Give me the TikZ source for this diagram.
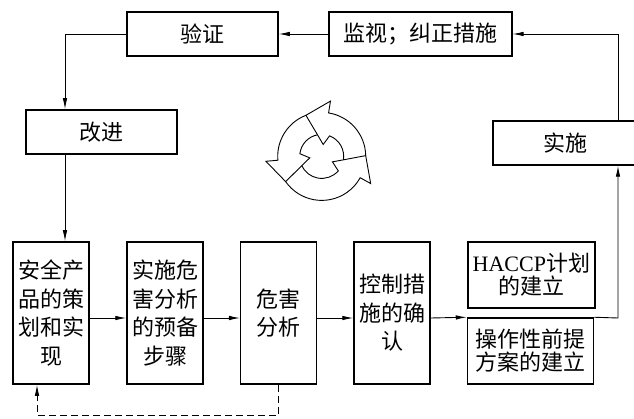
\documentclass[tikz,border=0pt]{standalone}
\usepackage{fontspec}
\newfontfamily\cjk{Noto Sans CJK SC}
\newfontfamily\latin{Liberation Serif}
\usetikzlibrary{arrows.meta,calc}

\tikzstyle{box}=[shape=rectangle,draw,line width=1.5pt,inner sep=0pt,align=center,font=\cjk\fontsize{22}{28.5}\selectfont]
\tikzstyle{tall}=[box,minimum width=76pt,minimum height=142pt]
\tikzstyle{wide}=[box,minimum width=151pt,minimum height=44pt]
\tikzstyle{half}=[box,minimum width=127pt,minimum height=66pt,font=\cjk\fontsize{22}{23}\selectfont]
\tikzstyle{flow}=[line width=0.9pt,-{Latex[length=11pt,width=4.5pt]}]

\begin{document}
\begin{tikzpicture}[x=1pt,y=1pt]
    \useasboundingbox (0,0) rectangle (634,418);
    % upper loop
    \node[wide] (verify) at (202.5,384) {验证};
    \node[wide,minimum width=183pt] (monitor) at (420.3,384) {监视；纠正措施}
        edge [flow] (verify);
    \node[wide] (improve) at (101.5,286) {改进};
    \node[wide,minimum width=144pt] (implement) at (565,275) {实施};
    % steps
    \node[tall] (plan) at (51,105) {安全产\\品的策\\划和实\\现};
    \node[tall] (prep) at (165,105) {实施危\\害分析\\的预备\\步骤};
    \node[tall] (hazard) at (278.7,105) {危害\\分析};
    \node[tall] (control) at (392,105) {控制措\\施的确\\认};
    \node[half] (haccp) at (531.4,143) {{\latin HACCP}计划\\的建立};
    \node[half,minimum width=126pt] (prereq) at (530.5,67) {操作性前提\\方案的建立};
    % connectors
    \coordinate (lt) at (65,0);
    \coordinate (rt) at (618,100);
    \coordinate (db) at (37,3);
    \draw[flow] (verify.west) -| (lt |- improve.north);
    \draw[flow] (lt |- improve.south) -- (lt |- plan.north);
    \foreach \a/\b in {plan/prep,prep/hazard,hazard/control}
        \draw[flow] (\a.east |- rt) -- (\b.west |- rt);
    \draw[flow] (control.east |- rt) -- (prereq.north west);
    \draw[flow] (prereq.north east) -- (rt) -- (rt |- implement.south);
    \draw[flow] (rt |- implement.north) |- (monitor.east);
    \draw[flow,dash pattern=on 7pt off 4pt] (hazard.south) |- (db) -- (db |- plan.south);
    % cycle
    \coordinate (cyc) at (321.7,261.6);
    \foreach \b/\p in {81/1,185/111,331/215}
        \draw[line width=0.9pt] ($(cyc)+(\p:44pt)$) arc[start angle=\p,end angle=\b,radius=44pt]
            -- ($(cyc)+(\b:56pt)$) -- ($(cyc)+({\b+30}:44pt)$) -- ($(cyc)+({\b+20}:22pt)$)
            -- ($(cyc)+({\b+2}:12pt)$) -- ($(cyc)+({\b-12}:22pt)$)
            arc[start angle=\b-12,end angle=\p-10,radius=22pt];
\end{tikzpicture}
\end{document}
